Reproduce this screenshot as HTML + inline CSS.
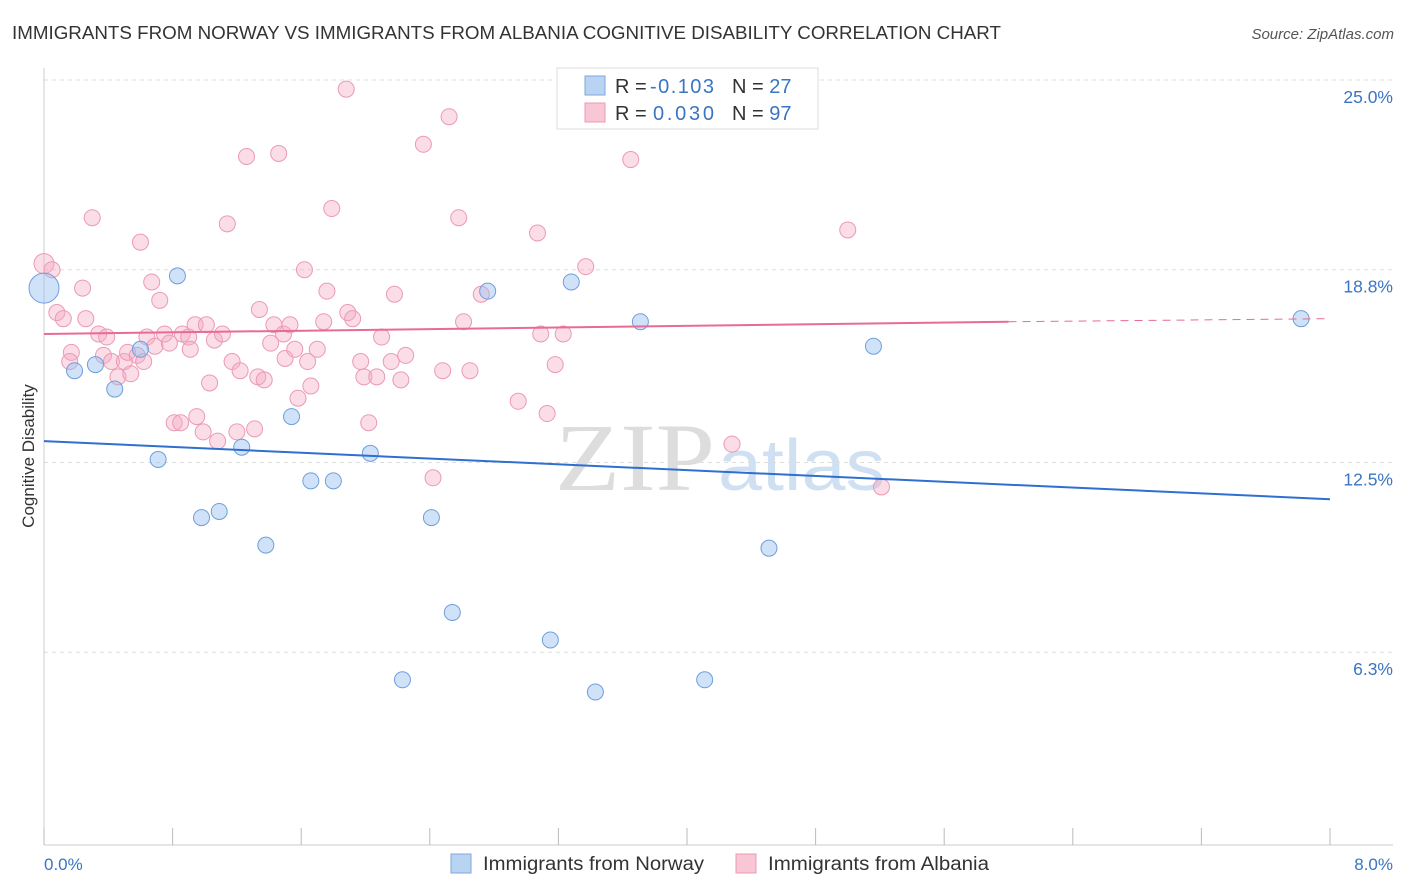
<!DOCTYPE html>
<html><head><meta charset="utf-8"><style>
body{margin:0;background:#fff;font-family:"Liberation Sans",sans-serif;}
svg{display:block}
</style></head><body>
<svg id="chart" width="1406" height="892">
<text x="12" y="39" font-size="18" fill="#333" textLength="989" lengthAdjust="spacingAndGlyphs">IMMIGRANTS FROM NORWAY VS IMMIGRANTS FROM ALBANIA COGNITIVE DISABILITY CORRELATION CHART</text>
<text x="1394" y="39" font-size="15" fill="#555" font-style="italic" text-anchor="end">Source: ZipAtlas.com</text>
<text x="555" y="490" font-size="96" fill="#ddd" textLength="160" lengthAdjust="spacingAndGlyphs" font-family="Liberation Serif">ZIP</text>
<text x="718" y="490" font-size="72" fill="#cfe0f3" textLength="167" lengthAdjust="spacingAndGlyphs">atlas</text>
<g id="grid"></g><g id="axes"></g><g id="pts"></g><g id="lines"></g>
<text transform="translate(34,456) rotate(-90)" font-size="17" fill="#333" text-anchor="middle">Cognitive Disability</text>
<text x="44" y="870" font-size="17" fill="#3a75c4">0.0%</text>
<text x="1393" y="870" font-size="17" fill="#3a75c4" text-anchor="end">8.0%</text>
<g>
<rect x="557" y="68" width="261" height="61" fill="#fff" stroke="#ddd"/>
<rect x="585" y="76" width="20" height="19" fill="#b9d3f3" stroke="#7ea7de"/>
<rect x="585" y="103" width="20" height="19" fill="#f9c6d5" stroke="#ec9ab3"/>
<text x="615" y="93" font-size="20" fill="#333">R = <tspan fill="#3a75c4" x="650" textLength="64">-0.103</tspan><tspan x="732">N = </tspan><tspan fill="#3a75c4">27</tspan></text>
<text x="615" y="120" font-size="20" fill="#333">R = <tspan fill="#3a75c4" x="653" textLength="61">0.030</tspan><tspan x="732">N = </tspan><tspan fill="#3a75c4">97</tspan></text>
</g>
<g>
<rect x="451" y="854" width="20" height="19" fill="#b9d3f3" stroke="#7ea7de"/>
<text x="483" y="870" font-size="19" fill="#333" textLength="221" lengthAdjust="spacingAndGlyphs">Immigrants from Norway</text>
<rect x="736" y="854" width="20" height="19" fill="#f9c6d5" stroke="#ec9ab3"/>
<text x="768" y="870" font-size="19" fill="#333" textLength="221" lengthAdjust="spacingAndGlyphs">Immigrants from Albania</text>
</g>
</svg>
<script>
const yTicks=[25.0,18.8,12.5,6.3];
const yTickLabels=["25.0%","18.8%","12.5%","6.3%"];
const xTicks=[0,0.8,1.6,2.4,3.2,4.0,4.8,5.6,6.4,7.2,8.0];
const norwayX=[0.0,0.19,0.32,0.44,0.60,0.71,0.83,0.98,1.09,1.23,1.38,1.54,1.66,1.80,2.03,2.23,2.41,2.54,2.76,3.15,3.28,3.43,3.71,4.11,4.51,5.16,7.82];
const norwayY=[18.2,15.5,15.7,14.9,16.2,12.6,18.6,10.7,10.9,13.0,9.8,14.0,11.9,11.9,12.8,5.4,10.7,7.6,18.1,6.7,18.4,5.0,17.1,5.4,9.7,16.3,17.2];
const albaniaX=[0.0,0.05,0.08,0.12,0.17,0.16,0.26,0.24,0.30,0.34,0.37,0.39,0.42,0.46,0.50,0.52,0.54,0.60,0.58,0.62,0.64,0.67,0.69,0.72,0.75,0.78,0.81,0.85,0.86,0.90,0.91,0.94,0.95,0.99,1.01,1.03,1.06,1.08,1.11,1.14,1.17,1.20,1.22,1.26,1.31,1.33,1.34,1.37,1.41,1.43,1.46,1.49,1.50,1.53,1.56,1.58,1.62,1.64,1.66,1.70,1.74,1.76,1.79,1.88,1.89,1.92,1.97,1.99,2.02,2.07,2.10,2.16,2.18,2.22,2.25,2.36,2.42,2.48,2.52,2.58,2.61,2.65,2.72,2.95,3.07,3.09,3.13,3.18,3.23,3.37,3.65,4.28,5.00,5.21];
const albaniaY=[19.0,18.8,17.4,17.2,16.1,15.8,17.2,18.2,20.5,16.7,16.0,16.6,15.8,15.3,15.8,16.1,15.4,19.7,16.0,15.8,16.6,18.4,16.3,17.8,16.7,16.4,13.8,13.8,16.7,16.6,16.2,17.0,14.0,13.5,17.0,15.1,16.5,13.2,16.7,20.3,15.8,13.5,15.5,22.5,13.6,15.3,17.5,15.2,16.4,17.0,22.6,16.7,15.9,17.0,16.2,14.6,18.8,15.8,15.0,16.2,17.1,18.1,20.8,24.7,17.4,17.2,15.8,15.3,13.8,15.3,16.6,15.8,18.0,15.2,16.0,22.9,12.0,15.5,23.8,20.5,17.1,15.5,18.0,14.5,20.0,16.7,14.1,15.7,16.7,18.9,22.4,13.1,20.1,11.7];
const norwayLine=[0,13.2,8,11.3];
const albaniaLine=[0,16.7,6.0,17.1,8,17.2];
const NS="http://www.w3.org/2000/svg";
const X=v=>44+v/8*1286, Y=v=>80+(25-v)*30.6;
function mk(tag,attrs,parent){const e=document.createElementNS(NS,tag);for(const k in attrs)e.setAttribute(k,attrs[k]);parent.appendChild(e);return e;}
const grid=document.getElementById('grid'),axes=document.getElementById('axes'),pts=document.getElementById('pts'),lines=document.getElementById('lines');
yTicks.forEach((t,i)=>{
 const l=mk('line',{x1:44,x2:1393,y1:Y(t),y2:Y(t),stroke:'#ddd','stroke-dasharray':'4,4'},grid);
 
 
 const tx=mk('text',{x:1393,y:Y(t)+23,'font-size':17.5,fill:'#3a75c4','text-anchor':'end'},grid);
 tx.textContent=yTickLabels[i];
 
 
});
const ya=mk('line',{x1:44,x2:44,y1:68,y2:845,stroke:'#ccc'},axes);


const xa=mk('line',{x1:44,x2:1393,y1:845,y2:845,stroke:'#ccc'},axes);


xTicks.forEach(t=>{
 const l=mk('line',{x1:X(t),x2:X(t),y1:828,y2:845,stroke:'#bbb'},axes);
 
 
});
albaniaX.forEach((v,i)=>{
 const c=mk('circle',{cx:X(v),cy:Y(albaniaY[i]),r:i==0?10:8,fill:'rgba(246,170,195,0.4)',stroke:'#ec9ab3','stroke-width':1},pts);
 
 
});
norwayX.forEach((v,i)=>{
 const c=mk('circle',{cx:X(v),cy:Y(norwayY[i]),r:i==0?15:8,fill:'rgba(150,190,240,0.45)',stroke:'#6f9edc','stroke-width':1},pts);
 
 
});
const nl=mk('line',{x1:X(norwayLine[0]),y1:Y(norwayLine[1]),x2:X(norwayLine[2]),y2:Y(norwayLine[3]),stroke:'#2f6fd0','stroke-width':2},lines);


const al=mk('line',{x1:X(albaniaLine[0]),y1:Y(albaniaLine[1]),x2:X(albaniaLine[2]),y2:Y(albaniaLine[3]),stroke:'#e86b94','stroke-width':2},lines);


const ad=mk('line',{x1:X(albaniaLine[2]),y1:Y(albaniaLine[3]),x2:X(albaniaLine[4]),y2:Y(albaniaLine[5]),stroke:'#e86b94','stroke-width':1,'stroke-dasharray':'8,6'},lines);


</script>
</body></html>
